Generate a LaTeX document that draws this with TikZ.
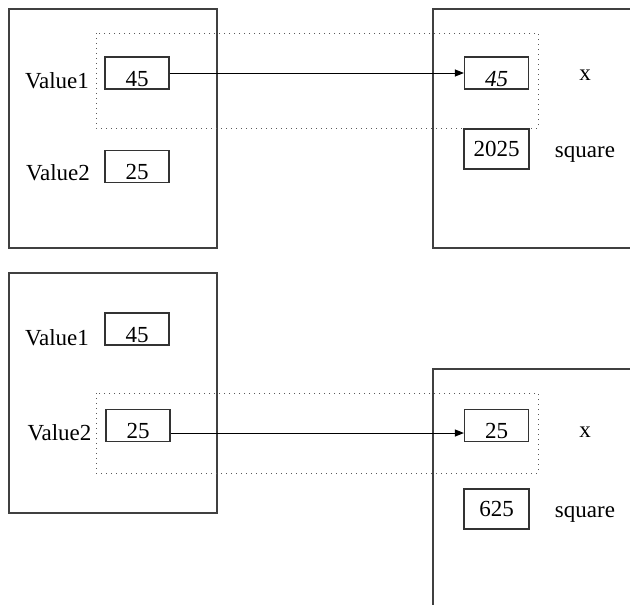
\documentclass[tikz,border=0pt]{standalone}
\usepackage{fontspec}
\setmainfont{Liberation Serif}
\usetikzlibrary{arrows.meta}

\begin{document}
\begin{tikzpicture}[x=0.5pt,y=-0.5pt]
    \tikzstyle{every node}+=[inner sep=0pt, font=\fontsize{11.5}{13}\selectfont]
    \tikzstyle{cell}=[draw=black!80, line width=0.6pt, minimum width=32pt, minimum height=16pt, text height=13pt, text depth=0pt]
    \tikzstyle{result}=[draw=black!80, line width=0.6pt, minimum width=32.5pt, minimum height=20pt]
    \tikzstyle{frame}=[draw=black!75, line width=0.75pt]
    \tikzstyle{pass}=[dotted, draw=black!65, line width=0.5pt]
    \tikzstyle{copy}=[line width=0.5pt, -{Triangle[length=4.5pt,width=3.5pt]}]
    \useasboundingbox (0,0) rectangle (630,605);
    % call with Value1
    \draw [frame] (9,9) rectangle (217,248);
    \draw [frame] (630,9) -| (433,248) -- (630,248);
    \draw [pass] (96,33) rectangle (538,128);
    \node [anchor=base] (l1) at (57,88) {Value1};
    \node [cell] (a1) at (137,73) {45};
    \node [anchor=base] (l2) at (58,180) {Value2};
    \node [cell] (a2) at (137,166.5) {25};
    \node [cell] (x1) at (496.5,73) {\itshape 45};
    \node [anchor=base] (n1) at (585,80) {x};
    \node [result] (s1) at (496.5,149) {2025};
    \node [anchor=base] (m1) at (585,157) {square};
    \draw [copy] (a1.east) -- (x1.west);
    % call with Value2
    \draw [frame] (9,273) rectangle (217,513);
    \draw [frame] (630,369) -| (433,605);
    \draw [pass] (96,393) rectangle (538,473);
    \node [anchor=base] (l3) at (57,345) {Value1};
    \node [cell] (b1) at (137,329) {45};
    \node [anchor=base] (l4) at (59.5,440) {Value2};
    \node [cell] (b2) at (138,425.5) {25};
    \node [cell] (x2) at (496.5,425.5) {25};
    \node [anchor=base] (n2) at (585,437) {x};
    \node [result] (s2) at (496.5,509) {625};
    \node [anchor=base] (m2) at (585,517) {square};
    \draw [copy] ([yshift=-3.75pt]b2.east) -- ([yshift=-3.75pt]x2.west);
\end{tikzpicture}
\end{document}
